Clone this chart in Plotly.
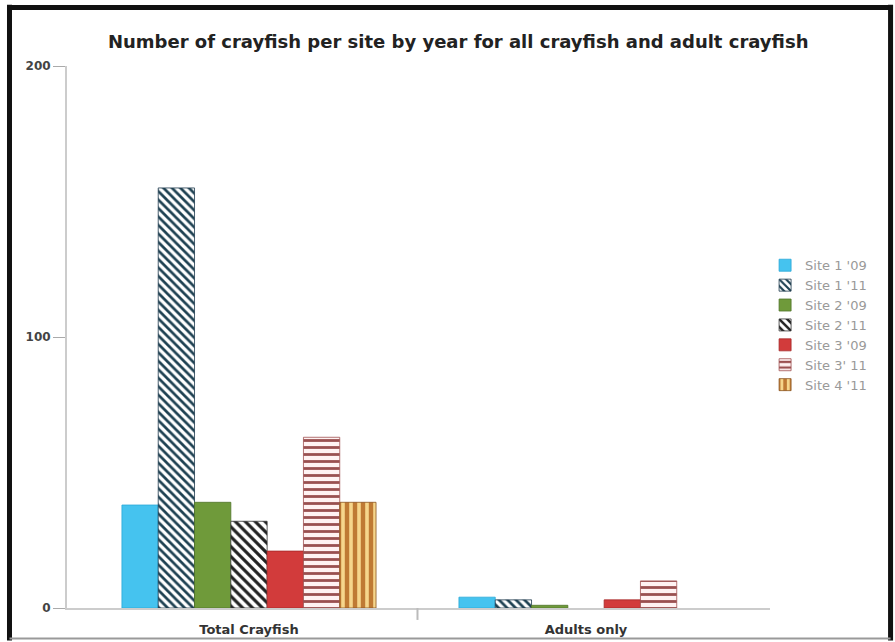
import plotly.graph_objects as go

categories = ["Total Crayfish", "Adults only"]
series_names = ["Site 1 '09", "Site 1 '11", "Site 2 '09", "Site 2 '11", "Site 3 '09", "Site 3' 11", "Site 4 '11"]
values = [
    [38, 4],
    [155, 3],
    [39, 1],
    [32, 0],
    [21, 3],
    [63, 10],
    [39, 0],
]
y_ticks = [0, 100, 200]

# style per series: (bg color, pattern shape, fg color, size, solidity, outline)
styles = [
    ("#45c3ef", "", None, None, None, "#2aa8d8"),
    ("#ffffff", "\\", "#1e4152", 6, 0.45, "#1e3a4c"),
    ("#6f9a3a", "", None, None, None, "#4f7428"),
    ("#ffffff", "\\", "#222222", 7, 0.45, "#333333"),
    ("#d23b3b", "", None, None, None, "#a52828"),
    ("#fff2f2", "-", "#9a5050", 7, 0.4, "#a05050"),
    ("#bf7a34", "|", "#f6d68c", 8, 0.45, "#8a5420"),
]

fig = go.Figure()
for name, vals, st in zip(series_names, values, styles):
    bg, shape, fg, size, sol, outline = st
    marker = dict(color=bg, line=dict(color=outline, width=[0.8 if v > 0 else 0 for v in vals]))
    if shape:
        marker["pattern"] = dict(shape=shape, fgcolor=fg, bgcolor=bg, size=size,
                                 solidity=sol, fillmode="replace")
    fig.add_trace(go.Bar(name=name, x=categories, y=vals, marker=marker))

# frame around the picture
frame = [
    dict(x0=-0.0818, x1=-0.0818, y0=-0.06, y1=1.113, color="#111111", w=5),
    dict(x0=-0.0853, x1=1.175, y0=1.108, y1=1.108, color="#111111", w=5),
    dict(x0=1.1715, x1=1.1715, y0=-0.06, y1=1.113, color="#111111", w=5),
    dict(x0=-0.0818, x1=1.1715, y0=-0.0563, y1=-0.0563, color="#999999", w=2),
]
shapes = [dict(type="line", xref="paper", yref="paper", x0=f["x0"], x1=f["x1"],
               y0=f["y0"], y1=f["y1"], line=dict(color=f["color"], width=f["w"]))
          for f in frame]
# divider tick between categories
shapes.append(dict(type="line", xref="x", yref="paper", x0=0.5, x1=0.5, y0=0, y1=-0.022,
                   line=dict(color="#bbbbbb", width=2)))

fig.update_layout(
    width=895, height=642,
    margin=dict(l=67, r=125, t=66, b=34),
    paper_bgcolor="white", plot_bgcolor="white",
    barmode="group", bargap=0.246, bargroupgap=0,
    title=dict(text="<b>Number of crayfish per site by year for all crayfish and adult crayfish</b>",
               x=0.512, xanchor="center", y=0.935, yanchor="middle",
               font=dict(family="DejaVu Sans", size=18, color="#222222")),
    font=dict(family="DejaVu Sans"),
    legend=dict(x=0.993, y=0.66, xanchor="left", yanchor="top",
                font=dict(family="DejaVu Sans", size=13, color="#999999"),
                traceorder="normal", itemwidth=30, tracegroupgap=0),
    shapes=shapes,
    showlegend=True,
)
fig.update_xaxes(
    type="category", range=[-0.540, 1.546], showgrid=False, automargin=False,
    showline=True, linecolor="#cccccc", linewidth=2, ticks="",
    tickfont=dict(family="DejaVu Sans", size=13, color="#333333"),
    ticklabelstandoff=8,
    tickvals=categories, ticktext=["<b>%s</b>" % c for c in categories],
)
fig.update_yaxes(
    range=[0, 200], showgrid=False, zeroline=False, automargin=False,
    showline=True, linecolor="#cccccc", linewidth=2,
    ticks="outside", ticklen=12, tickcolor="#aaaaaa", tickwidth=1,
    tickvals=y_ticks, ticktext=["<b>%d</b>" % v for v in y_ticks],
    tickfont=dict(family="DejaVu Sans", size=12, color="#444444"),
)

fig.write_html("out.html")
